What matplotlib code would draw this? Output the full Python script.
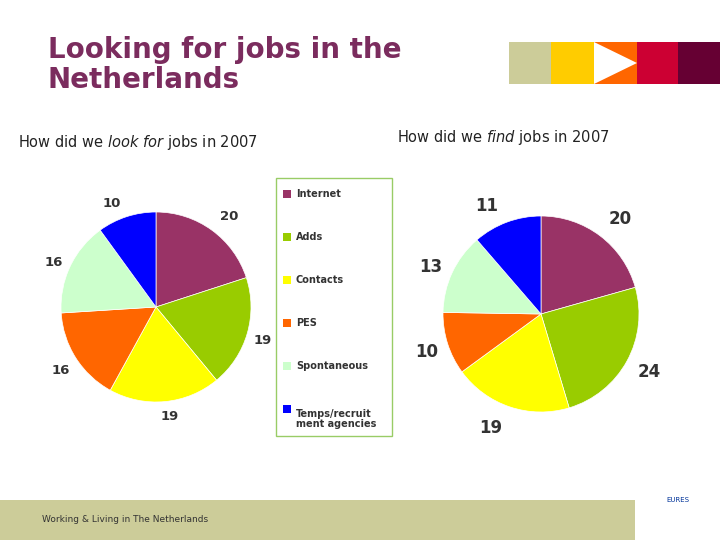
import matplotlib.pyplot as plt
from matplotlib.patches import Rectangle, Polygon

W, H = 720, 540

categories = ["Internet", "Adds", "Contacts", "PES", "Spontaneous", "Temps/recruit\nment agencies"]
look_values = [20, 19, 19, 16, 16, 10]
find_values = [20, 24, 19, 10, 13, 11]
colors = ["#993366", "#99CC00", "#FFFF00", "#FF6600", "#CCFFCC", "#0000FF"]

# label pixel positions
look_label_pos = [(229, 216), (263, 340), (170, 417), (61, 370), (54, 262), (112, 203)]
find_label_pos = [(620, 219), (649, 372), (491, 428), (427, 352), (431, 267), (487, 206)]

fig = plt.figure(figsize=(7.2, 5.4), dpi=100)


def px_axes(x0, y0, x1, y1):
    return fig.add_axes([x0 / W, 1 - y1 / H, (x1 - x0) / W, (y1 - y0) / H])


def fig_text(x, y, s, **kw):
    fig.text(x / W, 1 - y / H, s, **kw)


# header blocks
bg = fig.add_axes([0, 0, 1, 1])
bg.set_xlim(0, W)
bg.set_ylim(H, 0)
bg.axis("off")
for x0, x1, c in [(509, 551, "#CCCC99"), (551, 594, "#FFCC00"), (594, 637, "#FF6600"),
                  (637, 678, "#CC0033"), (678, 720, "#660033")]:
    bg.add_patch(Rectangle((x0, 42), x1 - x0, 42, color=c, ec="none"))
bg.add_patch(Polygon([(594, 42), (637, 63), (594, 84)], color="white", ec="none"))
bg.add_patch(Rectangle((0, 500), 635, 40, color="#CCCC99", ec="none"))
bg.add_patch(Rectangle((276, 178), 116, 258, fill=False, ec="#99CC66", lw=1))

fig_text(48, 65, "Looking for jobs in the\nNetherlands", fontsize=20, fontweight="bold",
         color="#7B2C5E", va="center", linespacing=1.05)
fig_text(18, 142, "How did we $\\it{look\\ for}$ jobs in 2007", fontsize=10.5, va="center", color="#222222")
fig_text(397, 137, "How did we $\\it{find}$ jobs in 2007", fontsize=10.5, va="center", color="#222222")
fig_text(42, 519, "Working & Living in The Netherlands", fontsize=6.5, va="center", color="#333333")
fig_text(678, 500, "EURES", fontsize=5, va="center", ha="center", color="#003399")

# legend
for i, (name, c) in enumerate(zip(categories, colors)):
    y = 194 + i * 43
    bg.add_patch(Rectangle((283, y - 4), 8, 8, color=c, ec="none"))
    fig_text(296, y, name, fontsize=7, fontweight="bold", va="top" if "\n" in name else "center",
             color="#333333", linespacing=1.0)

for box, values, label_pos, fs in [((61, 212, 251, 402), look_values, look_label_pos, 9.5),
                                   ((443, 216, 639, 412), find_values, find_label_pos, 12)]:
    ax = px_axes(*box)
    ax.pie(values, colors=colors, startangle=90, counterclock=False,
           wedgeprops=dict(edgecolor="white", linewidth=0.5))
    ax.set_xlim(-1, 1)
    ax.set_ylim(-1, 1)
    ax.axis("off")
    for v, (x, y) in zip(values, label_pos):
        fig_text(x, y, str(v), fontsize=fs, fontweight="bold", ha="center", va="center", color="#333333")

fig.savefig("out.png", dpi=100)
